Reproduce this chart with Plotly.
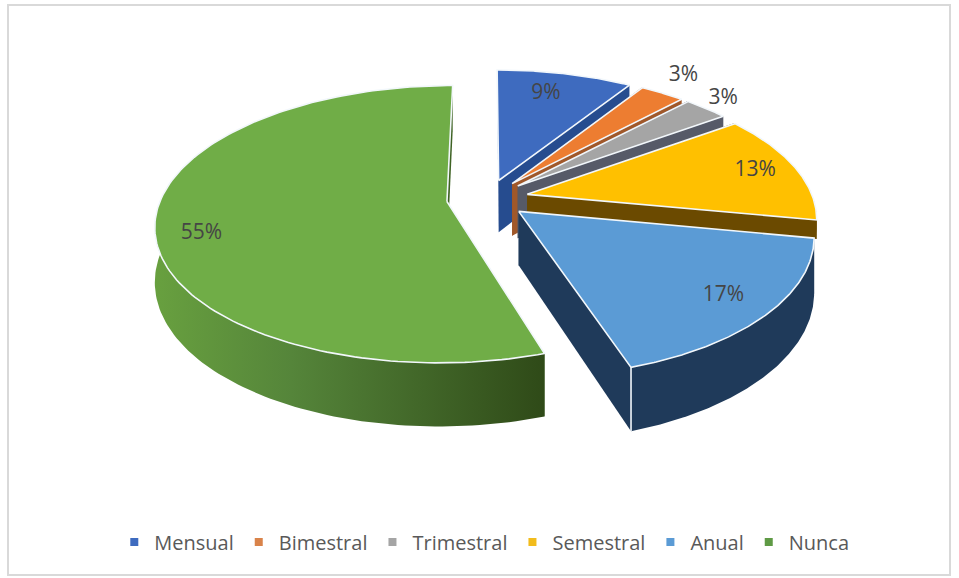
import numpy as np
import plotly.graph_objects as go

categories = ["Mensual", "Bimestral", "Trimestral", "Semestral", "Anual", "Nunca"]
values = [9, 3, 3, 13, 17, 55]
top_colors = ["#3E6BBF", "#ED7D31", "#A5A5A5", "#FFC000", "#5B9BD5", "#70AD47"]
wall_colors = ["#264C8F", "#A0582A", "#565A68", "#6B4A00", "#1F3A5A", "#3F6324"]
legend_colors = ["#3E6BBF", "#D9834A", "#A5A5A5", "#F2BC1C", "#5B9BD5", "#5F9A45"]
label_radius = [0.78, 1.20, 1.12, 0.85, 0.84, 0.85]
label_turn = [-0.5, -0.3, -0.2, 0.0, 0.0, -1.9]
wall_depth = [1.0, 1.0, 1.0, 0.35, 1.0, 1.0]

# projection of the pie disc onto the page
CX, CY = 487.5, 198.5
A, B, K, H, EXPLODE = 286.0, 134.0, 0.163, 53.0, 0.143


def project(theta, r, mid, z=0.0):
    px = r * np.sin(theta) + EXPLODE * np.sin(mid)
    pv = -r * np.cos(theta) - EXPLODE * np.cos(mid)
    w = 1.0 / (1.0 - K * pv)
    return CX + A * px * w, CY + (B * pv + H * z) * w


def poly(fig, x, y, fill=None, line=None, width=0.0, gradient=None):
    kw = dict(x=list(x), y=list(y), mode="lines", showlegend=False, hoverinfo="skip",
              line=dict(color=line or "rgba(0,0,0,0)", width=width))
    if fill or gradient:
        kw["fill"] = "toself"
        kw["fillcolor"] = fill
    if gradient:
        kw["fillgradient"] = gradient
    fig.add_trace(go.Scatter(**kw))


fig = go.Figure()
total = sum(values)
edges = 2 * np.pi * np.cumsum([0] + values) / total
mids = (edges[:-1] + edges[1:]) / 2

# painter's order: back slices first
for i in [5, 0, 1, 2, 3, 4]:
    t0, t1, m = edges[i], edges[i + 1], mids[i]
    d = wall_depth[i]
    ax, ay = project(0, 0, m)
    axb, ayb = project(0, 0, m, d)
    for t in (t0, t1):
        ex, ey = project(t, 1, m)
        exb, eyb = project(t, 1, m, d)
        poly(fig, [ax, ex, exb, axb, ax], [ay, ey, eyb, ayb, ay], fill=wall_colors[i])
    arc = np.linspace(t0, t1, 160)
    arc_front = arc[(np.cos(arc) < 0.0) | (np.abs(np.cos(arc)) < 0.2)]
    if len(arc_front) and i >= 3:
        xt, yt = project(arc_front, 1, m)
        xb, yb = project(arc_front, 1, m, d)
        grad = None
        if i == 5:
            grad = dict(type="horizontal",
                        colorscale=[[0, "#68A03F"], [0.35, "#55853A"], [1, "#2F4A18"]])
        poly(fig, np.r_[xt, xb[::-1], xt[0]], np.r_[yt, yb[::-1], yt[0]],
             fill=wall_colors[i], gradient=grad)
    xa, ya = project(arc, 1, m)
    poly(fig, np.r_[ax, xa, ax], np.r_[ay, ya, ay], fill=top_colors[i], line="#F2F7FB", width=1.6)
    if i == 4:
        ex, ey = project(t1, 1, m)
        exb, eyb = project(t1, 1, m, 1)
        poly(fig, [ex, exb], [ey, eyb], line="#F2F7FB", width=1.6)

# percentage labels
label_angle = mids + 2 * np.pi * np.array(label_turn) / total
lx, ly = zip(*(project(label_angle[i], label_radius[i], mids[i]) for i in range(len(values))))
fig.add_trace(go.Scatter(x=list(lx), y=list(ly), mode="text", showlegend=False, hoverinfo="skip",
                         text=[f"{v}%" for v in values],
                         textfont=dict(size=21, color="#454545", family="Open Sans")))

# legend
for name, color in zip(categories, legend_colors):
    fig.add_trace(go.Scatter(x=[None], y=[None], mode="markers", name=name,
                             marker=dict(symbol="square", size=8, color=color)))

fig.update_layout(
    width=959, height=578, margin=dict(l=0, r=0, t=0, b=0),
    paper_bgcolor="white", plot_bgcolor="white",
    xaxis=dict(range=[0, 959], visible=False, fixedrange=True),
    yaxis=dict(range=[578, 0], visible=False, fixedrange=True),
    legend=dict(orientation="h", x=0.505, xanchor="center", y=0.0625, yanchor="middle",
                font=dict(size=20, color="#595959", family="Open Sans"), itemwidth=30,
                bgcolor="rgba(0,0,0,0)"),
    shapes=[dict(type="rect", xref="x", yref="y", x0=8, y0=5, x1=950, y1=575,
                 line=dict(color="#D9D9D9", width=2), layer="below")],
)
fig.write_html("out.html", post_script="document.body.style.margin='0';",
               config={"displayModeBar": False})
